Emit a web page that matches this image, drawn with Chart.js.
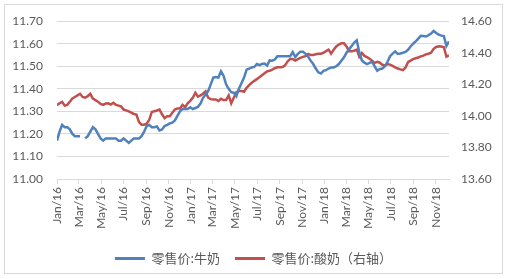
<!DOCTYPE html>
<html><head><meta charset="utf-8">
<script src="https://cdn.jsdelivr.net/npm/chart.js@4.4.0/dist/chart.umd.min.js"></script>
<style>html,body{margin:0;padding:0;background:#fff;}#wrap{position:relative;width:507px;height:279px;}canvas{display:block;}</style>
</head><body><div id="wrap"><canvas id="c" width="507" height="279"></canvas></div>
<script>
const seriesNames = ['零售价:牛奶', '零售价:酸奶（右轴）'];
const firstWeek = '2016-01-01';
const milk = [
11.17,11.21,11.24,11.23,11.23,11.22,11.20,11.19,11.19,11.19,null,11.18,11.19,11.21,11.23,11.22,11.20,11.18,11.17,11.18,
11.18,11.18,11.18,11.18,11.17,11.17,11.18,11.17,11.16,11.17,11.18,11.18,11.18,11.19,11.21,11.235,11.24,11.23,11.23,11.233,
11.215,11.22,11.235,11.24,11.247,11.25,11.26,11.28,11.30,11.31,11.31,11.31,11.318,11.31,11.315,11.32,11.335,11.36,11.375,11.39,
11.42,11.45,11.452,11.45,11.478,11.458,11.42,11.40,11.385,11.383,11.368,11.40,11.425,11.45,11.485,11.49,11.495,11.497,11.51,11.505,
11.51,11.512,11.503,11.526,11.525,11.53,11.544,11.544,11.544,11.544,11.544,11.544,11.563,11.541,11.555,11.565,11.565,11.555,11.543,11.525,
11.51,11.49,11.473,11.468,11.48,11.483,11.49,11.495,11.495,11.50,11.51,11.525,11.54,11.56,11.575,11.59,11.605,11.615,11.56,11.526,
11.516,11.51,11.515,11.52,11.50,11.48,11.488,11.49,11.50,11.52,11.545,11.556,11.566,11.555,11.557,11.56,11.564,11.573,11.588,11.60,
11.61,11.623,11.635,11.634,11.632,11.638,11.645,11.657,11.648,11.64,11.636,11.634,11.59,11.61
];
const yogurt = [
14.068,14.08,14.089,14.065,14.07,14.09,14.11,14.12,14.13,14.14,14.12,14.115,14.125,14.14,14.11,14.10,14.09,14.076,14.07,14.078,
14.08,14.072,14.083,14.07,14.065,14.06,14.04,14.035,14.028,14.02,14.012,14.008,13.96,13.944,13.944,13.95,13.975,14.025,14.029,14.034,
14.04,14.01,13.985,13.997,13.997,14.02,14.04,14.047,14.047,14.07,14.055,14.08,14.095,14.115,14.147,14.122,14.13,14.14,14.155,14.115,
14.106,14.104,14.104,14.094,14.108,14.10,14.10,14.13,14.08,14.115,14.15,14.157,14.157,14.153,14.178,14.195,14.21,14.222,14.233,14.245,
14.258,14.27,14.282,14.286,14.293,14.302,14.308,14.308,14.31,14.32,14.345,14.36,14.36,14.351,14.36,14.368,14.374,14.378,14.392,14.386,
14.386,14.39,14.394,14.394,14.40,14.41,14.42,14.394,14.42,14.44,14.452,14.46,14.46,14.44,14.41,14.41,14.413,14.42,14.375,14.398,
14.38,14.372,14.362,14.35,14.336,14.342,14.337,14.324,14.319,14.328,14.325,14.317,14.308,14.30,14.295,14.29,14.305,14.34,14.35,14.36,
14.365,14.37,14.377,14.382,14.39,14.394,14.40,14.425,14.437,14.441,14.44,14.435,14.375,14.383
];
const tickLabels = ['Jan/16','Mar/16','May/16','Jul/16','Sep/16','Nov/16','Jan/17','Mar/17','May/17','Jul/17','Sep/17','Nov/17','Jan/18','Mar/18','May/18','Jul/18','Sep/18','Nov/18'];
const leftRange = [11.00, 11.70];
const rightRange = [13.60, 14.60];

const MS_DAY = 86400000;
const t0 = Date.parse(firstWeek + 'T00:00:00Z');
const monthIdx = {Jan:0,Feb:1,Mar:2,Apr:3,May:4,Jun:5,Jul:6,Aug:7,Sep:8,Oct:9,Nov:10,Dec:11};
const tickDays = tickLabels.map(l => {
  const [m, y] = l.split('/');
  return (Date.UTC(2000 + Number(y), monthIdx[m], 1) - t0) / MS_DAY;
});
// week dates (categories) as day offsets from the first week
const weekDays = milk.map((_, i) => i * 7);

const numFont = {family: 'Lato, "Liberation Sans", sans-serif', size: 12};
const cjkFont = {family: '"Noto Sans CJK SC", sans-serif', size: 13};
const gray = '#595959';
const gridC = '#D9D9D9';

const frame = {
  id: 'frame',
  beforeDraw(chart) {
    const c = chart.ctx;
    c.save();
    c.fillStyle = '#fff';
    c.fillRect(0, 0, chart.width, chart.height);
    c.strokeStyle = gridC;
    c.lineWidth = 1;
    c.strokeRect(4.5, 4.5, 498, 269);
    c.restore();
  }
};

new Chart(document.getElementById('c'), {
  type: 'line',
  data: {
    datasets: [
      {label: seriesNames[0], data: milk.map((v, i) => ({x: weekDays[i], y: v})), yAxisID: 'y',
       borderColor: '#4F81BD', backgroundColor: '#4F81BD', borderWidth: 2.5, pointRadius: 0, tension: 0, spanGaps: false},
      {label: seriesNames[1], data: yogurt.map((v, i) => ({x: weekDays[i], y: v})), yAxisID: 'y1',
       borderColor: '#C0504D', backgroundColor: '#C0504D', borderWidth: 2.5, pointRadius: 0, tension: 0}
    ]
  },
  options: {
    responsive: false,
    animation: false,
    layout: {padding: {top: 21, left: 0, right: 0, bottom: 4}},
    plugins: {
      tooltip: {enabled: false},
      legend: {
        position: 'bottom',
        labels: {
          font: cjkFont, color: gray, boxWidth: 30, boxHeight: 3, padding: 15,
          generateLabels(chart) {
            return chart.data.datasets.map((ds, i) => ({
              text: ds.label, fillStyle: ds.borderColor, strokeStyle: ds.borderColor,
              lineWidth: 0, hidden: false, datasetIndex: i, fontColor: gray
            }));
          }
        }
      }
    },
    scales: {
      x: {
        type: 'linear', min: 0, max: weekDays[weekDays.length - 1],
        afterBuildTicks(scale) { scale.ticks = tickDays.map(v => ({value: v})); },
        afterFit(scale) { scale.height = 58; },
        grid: {drawOnChartArea: false, drawTicks: true, tickLength: 5, color: gridC},
        border: {display: true, color: gridC},
        ticks: {
          autoSkip: false, maxRotation: 90, minRotation: 90, padding: 3,
          font: numFont, color: gray,
          callback: (v, i) => tickLabels[i]
        }
      },
      y: {
        position: 'left', min: leftRange[0], max: leftRange[1],
        afterFit(scale) { scale.width = 57; },
        grid: {color: gridC, drawTicks: false},
        border: {display: false},
        ticks: {stepSize: 0.1, padding: 14, font: numFont, color: gray, callback: v => Number(v).toFixed(2)}
      },
      y1: {
        position: 'right', min: rightRange[0], max: rightRange[1],
        afterFit(scale) { scale.width = 58; },
        grid: {drawOnChartArea: false, drawTicks: false},
        border: {display: false},
        ticks: {stepSize: 0.1, padding: 12, font: numFont, color: gray, callback: v => Number(v).toFixed(2)}
      }
    }
  },
  plugins: [frame]
});
</script></body></html>
